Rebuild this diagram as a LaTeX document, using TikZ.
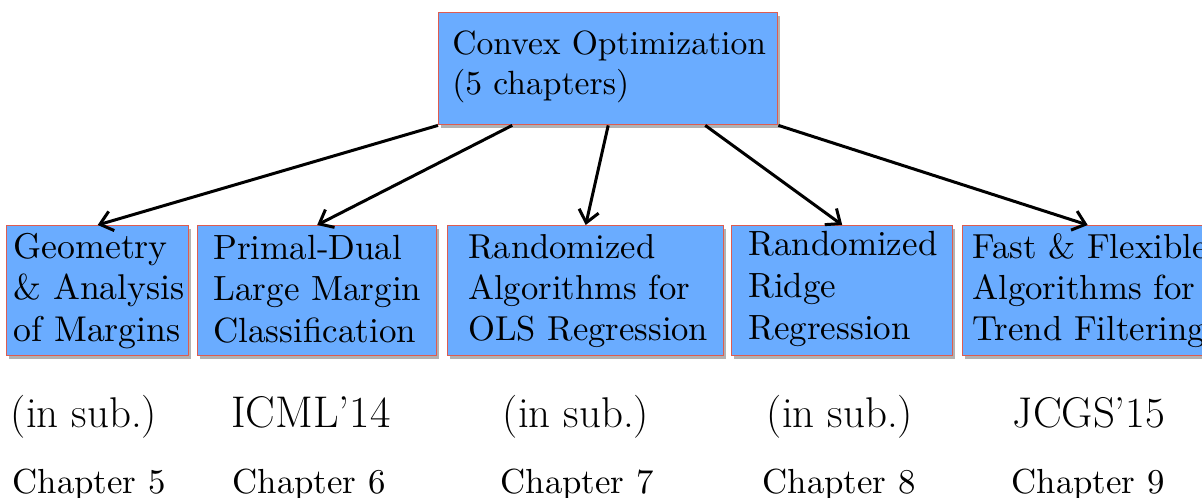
\documentclass[tikz,border=0pt]{standalone}
\usepackage{graphicx}
\usetikzlibrary{arrows.meta,shadows,calc}
\definecolor{boxblue}{RGB}{106,172,255}
\definecolor{boxred}{RGB}{222,92,80}
\tikzset{
  box/.style={draw=boxred, line width=0.7pt, fill=boxblue, inner sep=0pt, anchor=north west,
    drop shadow={shadow xshift=1.2pt, shadow yshift=-1.8pt, opacity=0.3, fill=black}},
  boxtext/.style={anchor=base west, inner sep=0pt, align=left},
  conn/.style={line width=1.5pt, -{Straight Barb[length=6pt, width=10pt, line width=1.5pt]}},
  lbl/.style={anchor=base, inner sep=0pt, font=\fontsize{21.5}{25}\selectfont},
  chap/.style={anchor=base, inner sep=0pt},
}
\newcommand\boxlines[3]{\scalebox{#1}{\fontsize{10}{#2}\selectfont\begin{tabular}[t]{@{}l@{}}#3\end{tabular}}}
\newcommand\chaptxt[1]{\scalebox{1.74}{\fontsize{10}{12}\selectfont #1}}
\begin{document}
\begin{tikzpicture}[x=0.5pt,y=-0.5pt]
\useasboundingbox (0,0) rectangle (1202,497);
% boxes
\node[box, minimum width=169.5pt, minimum height=56pt] (top) at (438,12) {};
\node[box, minimum width=91pt,    minimum height=65pt] (b1) at (6,225) {};
\node[box, minimum width=119.5pt, minimum height=65pt] (b2) at (197,225) {};
\node[box, minimum width=138pt,   minimum height=65pt] (b3) at (447,225) {};
\node[box, minimum width=110.5pt, minimum height=65pt] (b4) at (731,225) {};
\node[box, minimum width=125pt,   minimum height=65pt] (b5) at (962,225) {};
% box texts
\node[boxtext] (ttop) at (452,55) {\boxlines{1.68}{11.9pt}{Convex Optimization\\(5 chapters)}};
\node[boxtext] (t1) at (13,258) {\boxlines{1.79}{11.6pt}{Geometry\\\& Analysis\\of Margins}};
\node[boxtext] (t2) at (213,259) {\boxlines{1.75}{11.9pt}{Primal-Dual\\Large Margin\\Classification}};
\node[boxtext] (t3) at (468,258) {\boxlines{1.73}{11.9pt}{Randomized\\Algorithms for\\OLS Regression}};
\node[boxtext] (t4) at (748,255) {\boxlines{1.75}{12pt}{Randomized\\Ridge\\Regression}};
\node[boxtext] (t5) at (972,258) {\boxlines{1.74}{11.9pt}{Fast \& Flexible\\Algorithms for\\Trend Filtering}};
% connectors
\draw[conn] (top.south west) -- (b1.north);
\draw[conn] ($(top.south west)!0.218!(top.south east)$) -- (b2.north);
\draw[conn] (top.south) -- (b3.north);
\draw[conn] ($(top.south west)!0.785!(top.south east)$) -- (b4.north);
\draw[conn] (top.south east) -- (b5.north);
% venue labels
\node[lbl] (v5) at (84,427) {(in sub.)};
\node[lbl, font=\fontsize{22.2}{26}\selectfont] (v6) at (311,427) {ICML'14};
\node[lbl] (v7) at (576,427) {(in sub.)};
\node[lbl] (v8) at (840,427) {(in sub.)};
\node[lbl] (v9) at (1089,427) {JCGS'15};
% chapter labels
\node[chap] (c5) at (89,493) {\chaptxt{Chapter 5}};
\node[chap] (c6) at (309,493) {\chaptxt{Chapter 6}};
\node[chap] (c7) at (577,493) {\chaptxt{Chapter 7}};
\node[chap] (c8) at (839,493) {\chaptxt{Chapter 8}};
\node[chap] (c9) at (1088,493) {\chaptxt{Chapter 9}};
\end{tikzpicture}
\end{document}
